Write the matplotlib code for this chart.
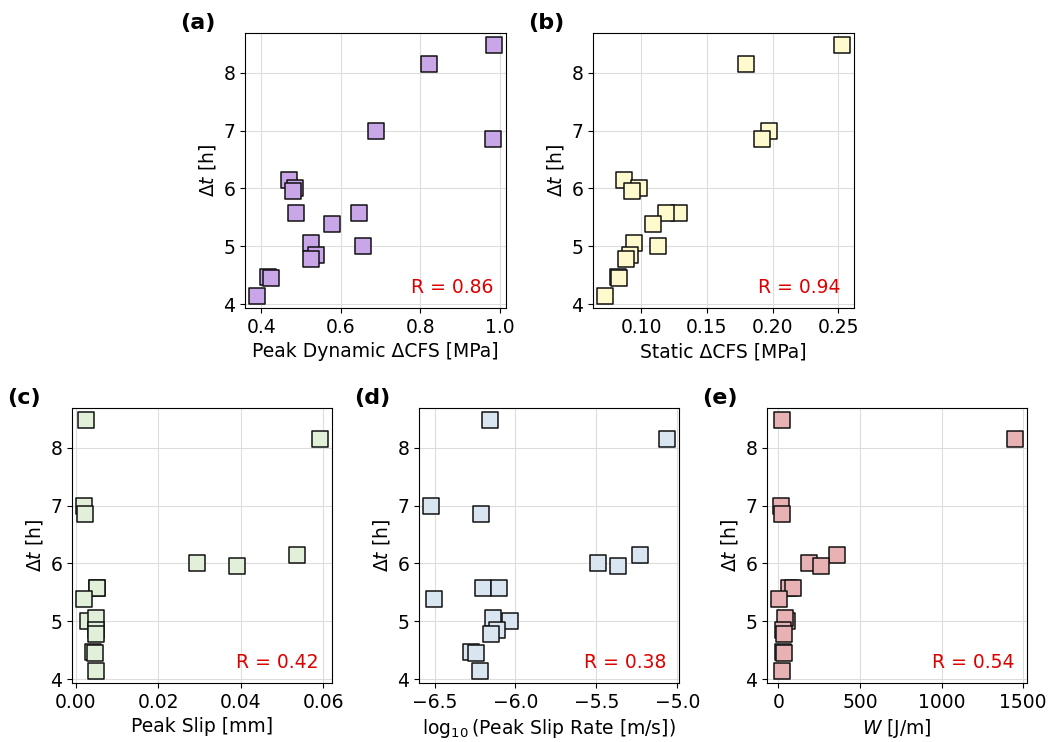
import matplotlib
matplotlib.use("Agg")
import matplotlib.pyplot as plt

# Delay between mainshock and triggered event, one entry per event
dt_hours = [8.47, 8.15, 6.99, 6.86, 6.15, 6.00, 5.96, 5.57, 5.58,
            5.38, 5.00, 5.05, 4.85, 4.78, 4.47, 4.45, 4.15]

# Candidate predictors, same event order as dt_hours
peak_dyn_cfs = [0.986, 0.822, 0.689, 0.983, 0.470, 0.484, 0.480, 0.488, 0.647,
                0.577, 0.656, 0.525, 0.539, 0.524, 0.417, 0.424, 0.389]
static_cfs = [0.253, 0.180, 0.197, 0.192, 0.087, 0.0985, 0.093, 0.1286, 0.1186,
              0.109, 0.113, 0.0946, 0.0916, 0.088, 0.0821, 0.083, 0.0722]
peak_slip = [0.0024, 0.0592, 0.0019, 0.0021, 0.0536, 0.0293, 0.0390, 0.0050, 0.0050,
             0.0019, 0.0029, 0.0048, 0.0048, 0.0048, 0.0042, 0.0045, 0.0048]
log_slip_rate = [-6.157, -5.062, -6.523, -6.212, -5.232, -5.490, -5.366, -6.198, -6.101,
                 -6.504, -6.034, -6.137, -6.113, -6.150, -6.277, -6.243, -6.221]
work = [24, 1451, 16, 20, 361, 190, 259, 67, 88,
        2, 51, 40, 30, 33, 27, 31, 24]

r_values = [0.86, 0.94, 0.42, 0.38, 0.54]
panel_tags = ['(a)', '(b)', '(c)', '(d)', '(e)']
xlabels = ['Peak Dynamic ΔCFS [MPa]', 'Static ΔCFS [MPa]', 'Peak Slip [mm]',
           r'$\log_{10}$(Peak Slip Rate [m/s])', r'$W$ [J/m]']
colors = ['#C8A6E8', '#FFFACD', '#E2F0D9', '#D9E6F2', '#E8B2B4']
xdata = [peak_dyn_cfs, static_cfs, peak_slip, log_slip_rate, work]

plt.rcParams['font.size'] = 13.5

fig = plt.figure(figsize=(10.52, 7.42), dpi=100)
W, H = 1052, 742
# axes boxes in pixels: left, top, width, height
boxes = [(245, 33, 261, 275), (593, 33, 261, 275),
         (72, 408, 260, 275), (419, 408, 260, 275), (767, 408, 260, 275)]

for i, (l, t, w, h) in enumerate(boxes):
    ax = fig.add_axes([l / W, 1 - (t + h) / H, w / W, h / H])
    ax.scatter(xdata[i], dt_hours, marker='s', s=135, c=colors[i],
               edgecolors='#111111', linewidths=1.1, zorder=3)
    ax.grid(True, color='#dddddd', linewidth=0.8, zorder=0)
    ax.set_axisbelow(True)
    ax.set_xlabel(xlabels[i])
    ax.set_ylabel(r'$\Delta t$ [h]')
    ax.set_yticks([4, 5, 6, 7, 8])
    ax.text(0.95, 0.04, f'R = {r_values[i]:.2f}', transform=ax.transAxes,
            ha='right', va='bottom', color='#dd0000', fontsize=13.5)
    ax.text(-0.25, 1.0, panel_tags[i], transform=ax.transAxes,
            ha='left', va='bottom', fontsize=16, fontweight='bold')
    if i == 2:
        ax.set_xticks([0.00, 0.02, 0.04, 0.06])
    if i == 4:
        ax.set_xticks([0, 500, 1000, 1500])

fig.savefig('out.png', dpi=100)
